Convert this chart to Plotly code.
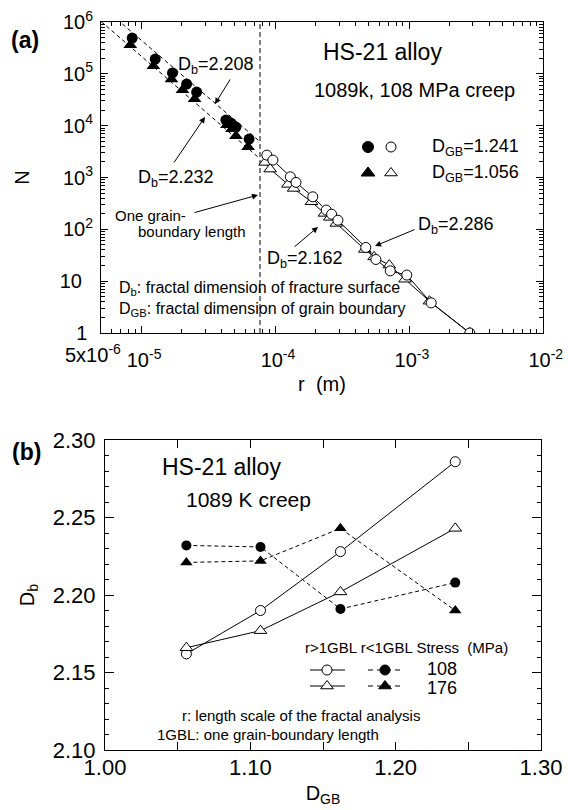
import math
import plotly.graph_objects as go

# ---------------- data: panel (a) ----------------
r_fill_c = [8.55e-6, 1.27e-5, 1.71e-5, 2.18e-5, 2.59e-5, 4.28e-5, 4.67e-5, 5.09e-5, 6.38e-5]
N_fill_c = [4.9e5, 1.93e5, 1.04e5, 6.35e4, 4.45e4, 1.28e4, 1.12e4, 9.4e3, 5.5e3]
r_fill_t = [8.27e-6, 1.23e-5, 1.68e-5, 2.03e-5, 2.50e-5, 4.36e-5, 4.75e-5, 5.09e-5, 6.27e-5]
N_fill_t = [3.6e5, 1.42e5, 7.9e4, 4.87e4, 3.26e4, 1.03e4, 8.6e3, 6.3e3, 3.86e3]

r_open_c = [8.66e-5, 9.61e-5, 1.297e-4, 1.43e-4, 1.908e-4, 2.405e-4, 2.637e-4, 2.94e-4,
            4.75e-4, 5.65e-4, 7.23e-4, 9.61e-4, 1.463e-3, 2.84e-3]
N_open_c = [2705, 2167, 1031, 804, 424, 235, 196, 150, 44.7, 26.2, 15.8, 13.1, 3.81, 1.0]
r_open_t = [8.41e-5, 9.17e-5, 1.246e-4, 1.373e-4, 1.865e-4, 2.335e-4, 2.56e-4, 2.86e-4,
            4.67e-4, 5.48e-4, 7.11e-4, 9.33e-4, 1.42e-3, 2.84e-3]
N_open_t = [1956, 1453, 736, 616, 340, 203, 170, 130, 40.9, 29.4, 20.4, 10.9, 4.11, 1.0]

# power-law fits N = N0 (r/r0)^-Db for r < 1 GBL
fit_Db = [2.208, 2.232]
fit_r0 = [3.54e-5, 2.92e-5]
fit_N0 = [2.73e4, 2.0e4]
fit_r_range = [5.0e-6, 7.7e-5]

gbl = 7.7e-5  # one grain-boundary length (m)

# tick labels (the 5x10^-6 label at the left end is drawn as a separate text)
a_xtick_vals = [5e-6, 1e-5, 1e-4, 1e-3, 1e-2]
a_xtick_text = ["", "&nbsp;10<sup>-5</sup>", "&nbsp;10<sup>-4</sup>",
                "&nbsp;10<sup>-3</sup>", "&nbsp;10<sup>-2</sup>"]
a_xlabel_left = "5x10<sup>-6</sup>"
a_ytick_vals = [1, 10, 1e2, 1e3, 1e4, 1e5, 1e6]
a_ytick_text = ["1&nbsp;", "10&nbsp;&nbsp;", "10<sup>2</sup>", "10<sup>3</sup>", "10<sup>4</sup>",
                "10<sup>5</sup>", "10<sup>6</sup>"]

# ---------------- data: panel (b) ----------------
dgb = [1.056, 1.107, 1.162, 1.241]
db_gt_108 = [2.162, 2.190, 2.228, 2.286]
db_gt_176 = [2.166, 2.177, 2.202, 2.243]
db_lt_108 = [2.232, 2.231, 2.191, 2.208]
db_lt_176 = [2.221, 2.222, 2.243, 2.190]

b_xtick_vals = [1.0, 1.1, 1.2, 1.3]
b_xtick_text = ["1.00", "1.10", "1.20", "1.30"]
b_ytick_vals = [2.10, 2.15, 2.20, 2.25, 2.30]
b_ytick_text = ["2.10", "2.15", "2.20", "2.25", "2.30"]

W, H = 568, 810
FONT = "Liberation Sans, Arial, Helvetica, sans-serif"


def px(x):
    return x / W


def py(y):
    return 1 - y / H


fig = go.Figure()

line_k = dict(color="black", width=1)

# ---- panel (a) traces ----
for Db, r0, N0 in zip(fit_Db, fit_r0, fit_N0):
    xs = fit_r_range
    ys = [N0 * (r / r0) ** (-Db) for r in xs]
    fig.add_trace(go.Scatter(x=xs, y=ys, mode="lines", xaxis="x", yaxis="y",
                             line=dict(color="black", width=1, dash="4px,3px"),
                             showlegend=False, hoverinfo="skip"))

fig.add_trace(go.Scatter(x=[gbl, gbl], y=[1, 1e6], mode="lines", xaxis="x", yaxis="y",
                         line=dict(color="black", width=1, dash="5px,3px"),
                         showlegend=False, hoverinfo="skip"))

fig.add_trace(go.Scatter(x=r_open_t, y=N_open_t, mode="lines+markers", xaxis="x", yaxis="y",
                         line=line_k,
                         marker=dict(symbol="triangle-up", size=11, color="white",
                                     line=dict(color="black", width=1)),
                         showlegend=False))
fig.add_trace(go.Scatter(x=r_open_c, y=N_open_c, mode="lines+markers", xaxis="x", yaxis="y",
                         line=line_k,
                         marker=dict(symbol="circle", size=10, color="white",
                                     line=dict(color="black", width=1)),
                         showlegend=False))
fig.add_trace(go.Scatter(x=r_fill_c, y=N_fill_c, mode="markers", xaxis="x", yaxis="y",
                         marker=dict(symbol="circle", size=11, color="black"),
                         showlegend=False))
fig.add_trace(go.Scatter(x=r_fill_t, y=N_fill_t, mode="markers", xaxis="x", yaxis="y",
                         marker=dict(symbol="triangle-up", size=12, color="black"),
                         showlegend=False))

# ---- panel (b) traces ----
fig.add_trace(go.Scatter(x=dgb, y=db_gt_108, mode="lines+markers", xaxis="x2", yaxis="y2",
                         line=line_k,
                         marker=dict(symbol="circle", size=10, color="white",
                                     line=dict(color="black", width=1)),
                         showlegend=False))
fig.add_trace(go.Scatter(x=dgb, y=db_gt_176, mode="lines+markers", xaxis="x2", yaxis="y2",
                         line=line_k,
                         marker=dict(symbol="triangle-up", size=11, color="white",
                                     line=dict(color="black", width=1)),
                         showlegend=False))
fig.add_trace(go.Scatter(x=dgb, y=db_lt_108, mode="lines+markers", xaxis="x2", yaxis="y2",
                         line=dict(color="black", width=1, dash="4px,3px"),
                         marker=dict(symbol="circle", size=10, color="black"),
                         showlegend=False))
fig.add_trace(go.Scatter(x=dgb, y=db_lt_176, mode="lines+markers", xaxis="x2", yaxis="y2",
                         line=dict(color="black", width=1, dash="4px,3px"),
                         marker=dict(symbol="triangle-up", size=11, color="black"),
                         showlegend=False))

# ---- legend keys on an overlay (pixel) axis ----
def key(xs, ys, sym, fill, size):
    fig.add_trace(go.Scatter(x=xs, y=ys, mode="markers", xaxis="x3", yaxis="y3",
                             marker=dict(symbol=sym, size=size, color=fill,
                                         line=dict(color="black", width=1)),
                             showlegend=False, hoverinfo="skip"))

key([368], [147], "circle", "black", 11)
key([391], [147], "circle", "white", 10)
key([368], [173], "triangle-up", "black", 12)
key([391], [173], "triangle-up", "white", 11)

for yk, sym in [(670, "circle"), (686, "triangle-up")]:
    fig.add_trace(go.Scatter(x=[310, 345], y=[yk, yk], mode="lines", xaxis="x3", yaxis="y3",
                             line=dict(color="black", width=1), showlegend=False, hoverinfo="skip"))
    fig.add_trace(go.Scatter(x=[368, 402], y=[yk, yk], mode="lines", xaxis="x3", yaxis="y3",
                             line=dict(color="black", width=1, dash="5px,4px"),
                             showlegend=False, hoverinfo="skip"))
    key([327], [yk], sym, "white", 10 if sym == "circle" else 11)
    key([385], [yk], sym, "black", 10 if sym == "circle" else 11)

# ---- axes ----
minor_x = [k * 10.0 ** e for e in range(-6, -2) for k in range(2, 10) if 5e-6 < k * 10.0 ** e < 1e-2]
minor_y = [k * 10.0 ** e for e in range(0, 6) for k in range(2, 10)]

axis_common = dict(showline=True, linecolor="black", linewidth=1, mirror="allticks",
                   ticks="inside", tickcolor="black", tickwidth=1, showgrid=False,
                   zeroline=False, automargin=False, tickangle=0)

fig.update_layout(
    template="none",
    width=W, height=H, autosize=False,
    margin=dict(l=0, r=0, t=0, b=0, pad=0),
    paper_bgcolor="white", plot_bgcolor="rgba(0,0,0,0)",
    font=dict(family=FONT, color="black", size=18),
    showlegend=False,
    xaxis=dict(domain=[px(101), px(543)], anchor="y", type="log",
               range=[math.log10(5e-6), -2],
               tickmode="array", tickvals=a_xtick_vals, ticktext=a_xtick_text,
               ticklen=7, tickfont=dict(size=20), ticklabelstandoff=9,
               minor=dict(tickvals=minor_x, ticks="inside", ticklen=4, tickcolor="black",
                          showgrid=False),
               title=dict(text="r&nbsp;&nbsp;(m)", font=dict(size=20), standoff=6),
               **axis_common),
    yaxis=dict(domain=[py(333), py(22)], anchor="x", type="log",
               range=[0, 6],
               tickmode="array", tickvals=a_ytick_vals, ticktext=a_ytick_text,
               ticklen=7, tickfont=dict(size=20), ticklabelstandoff=3,
               minor=dict(tickvals=minor_y, ticks="inside", ticklen=4, tickcolor="black",
                          showgrid=False),
               title=dict(text="N", font=dict(size=20), standoff=24),
               **axis_common),
    xaxis2=dict(domain=[px(105), px(541)], anchor="y2", range=[1.0, 1.3],
                tickmode="array", tickvals=b_xtick_vals, ticktext=b_xtick_text,
                ticklen=8, tickfont=dict(size=22), ticklabelstandoff=-2,
                minor=dict(dtick=0.05, ticks="inside", ticklen=8, tickcolor="black",
                           showgrid=False),
                title=dict(text="D<sub>GB</sub>", font=dict(size=20), standoff=6),
                **axis_common),
    yaxis2=dict(domain=[py(750), py(440)], anchor="x2", range=[2.10, 2.30],
                tickmode="array", tickvals=b_ytick_vals, ticktext=b_ytick_text,
                ticklen=9, tickfont=dict(size=22), ticklabelstandoff=4,
                minor=dict(dtick=0.01, ticks="inside", ticklen=4, tickcolor="black",
                           showgrid=False),
                title=dict(text="D<sub>b</sub>", font=dict(size=20), standoff=12),
                **axis_common),
    xaxis3=dict(domain=[0, 1], anchor="y3", range=[0, W], visible=False, fixedrange=True,
                automargin=False),
    yaxis3=dict(domain=[0, 1], anchor="x3", range=[H, 0], visible=False, fixedrange=True,
                automargin=False),
)

# ---- annotations ----
ann = []


def text(x, y, s, size=18, xanchor="center", bold=False):
    ann.append(dict(x=px(x), y=py(y), xref="paper", yref="paper", text=("<b>%s</b>" % s) if bold else s,
                    showarrow=False, xanchor=xanchor, yanchor="middle",
                    font=dict(size=size, family=FONT, color="black")))


def arrow(hx, hy, tx, ty):
    ann.append(dict(x=px(hx), y=py(hy), xref="paper", yref="paper", text="",
                    showarrow=True, ax=tx - hx, ay=ty - hy, axref="pixel", ayref="pixel",
                    arrowhead=2, arrowsize=1.2, arrowwidth=1, arrowcolor="black"))


text(25, 40, "(a)", 23, bold=True)
text(26, 452, "(b)", 23, bold=True)

text(93, 353, a_xlabel_left, 20)

text(382, 52, "HS-21 alloy", 23)
text(414, 90, "1089k,&nbsp;108 MPa creep", 20)
text(430, 147, "D<sub>GB</sub>=1.241", 18, xanchor="left")
text(430, 173, "D<sub>GB</sub>=1.056", 18, xanchor="left")

text(216, 65, "D<sub>b</sub>=2.208", 18)
arrow(215, 104, 231, 78)
text(176, 178, "D<sub>b</sub>=2.232", 18)
arrow(205, 117, 173, 164)

text(150, 215, "One grain-", 15)
text(192, 231, "boundary length", 15)
arrow(258, 195, 193, 213)

text(305, 259, "D<sub>b</sub>=2.162", 18)
arrow(318, 227, 293, 248)
text(456, 225, "D<sub>b</sub>=2.286", 18)
arrow(375, 246, 416, 229)

text(117, 288, "D<sub>b</sub>: fractal dimension of fracture surface", 16, xanchor="left")
text(117, 310, "D<sub>GB</sub>: fractal dimension of grain boundary", 16, xanchor="left")

text(160, 467, "HS-21 alloy", 23, xanchor="left")
text(184, 499, "1089 K creep", 21, xanchor="left")
text(303, 647, "r&gt;1GBL r&lt;1GBL Stress&nbsp;&nbsp;(MPa)", 15, xanchor="left")
text(442, 669, "108", 18)
text(442, 688, "176", 18)
text(180, 715, "r: length scale of the fractal analysis", 15, xanchor="left")
text(155, 734, "1GBL: one grain-boundary length", 15, xanchor="left")

fig.update_layout(annotations=ann)

fig.write_html("out.html")
